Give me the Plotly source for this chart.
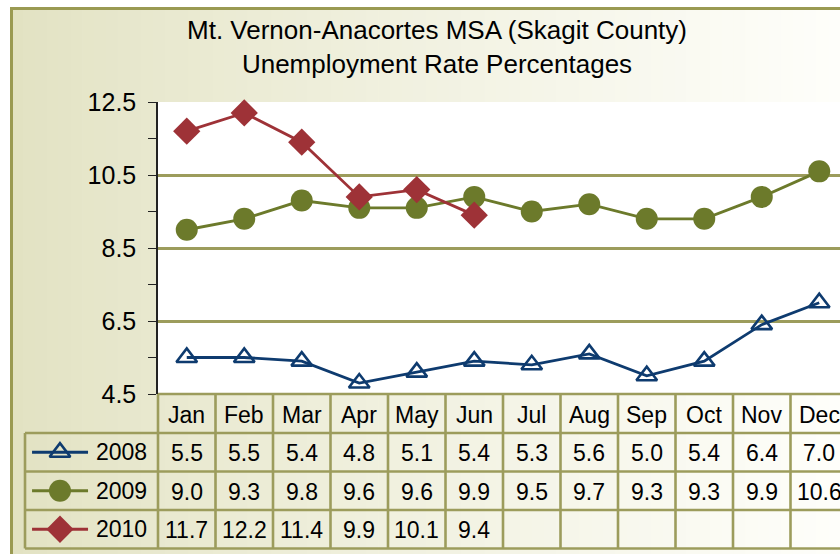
import plotly.graph_objects as go

months = ["Jan", "Feb", "Mar", "Apr", "May", "Jun", "Jul", "Aug", "Sep", "Oct", "Nov", "Dec"]
years = ["2008", "2009", "2010"]
rate_2008 = [5.5, 5.5, 5.4, 4.8, 5.1, 5.4, 5.3, 5.6, 5.0, 5.4, 6.4, 7.0]
rate_2009 = [9.0, 9.3, 9.8, 9.6, 9.6, 9.9, 9.5, 9.7, 9.3, 9.3, 9.9, 10.6]
rate_2010 = [11.7, 12.2, 11.4, 9.9, 10.1, 9.4]
y_ticks = [4.5, 6.5, 8.5, 10.5, 12.5]

title_lines = ["Mt. Vernon-Anacortes MSA (Skagit County)", "Unemployment Rate Percentages"]

W, H = 840, 554
FONT = "Liberation Sans, Arial, sans-serif"
OLIVE_GRID = "#9C9C5C"
OLIVE_FRAME = "#9A9A52"
NAVY = "#0E3B6F"
GREEN = "#6C7A2B"
RED = "#9E3237"


def px(x):
    return x / W


def py(y):
    return 1 - y / H


# layout geometry (pixels)
PLOT_L, PLOT_T, PLOT_B = 158, 102, 394
COL_W = 57.5
ROW_EDGES = [394, 433, 471.5, 510, 548.5]
TABLE_L = 25

series = [
    dict(name="2008", y=rate_2008, color=NAVY,
         marker=dict(symbol="triangle-up-open", size=18, color=NAVY, line=dict(color=NAVY, width=2.6))),
    dict(name="2009", y=rate_2009, color=GREEN,
         marker=dict(symbol="circle", size=22, color=GREEN, line=dict(width=0))),
    dict(name="2010", y=rate_2010, color=RED,
         marker=dict(symbol="diamond", size=21, color=RED, line=dict(width=0))),
]

fig = go.Figure()

for s in series:
    fig.add_trace(go.Scatter(
        x=months[:len(s["y"])], y=s["y"], mode="lines+markers",
        line=dict(color=s["color"], width=2.8), marker=s["marker"],
        cliponaxis=False, showlegend=False, xaxis="x", yaxis="y"))

# legend keys in the table's first column
for r, s in enumerate(series):
    fig.add_trace(go.Scatter(
        x=[0.053, 0.474], y=[r, r], mode="lines",
        line=dict(color=s["color"], width=2.8),
        showlegend=False, xaxis="x2", yaxis="y2", cliponaxis=False, hoverinfo="skip"))
    fig.add_trace(go.Scatter(
        x=[0.263], y=[r], mode="markers", marker=s["marker"],
        showlegend=False, xaxis="x2", yaxis="y2", cliponaxis=False, hoverinfo="skip"))

shapes = []
# background gradient
n_strips = 70
x_start, x_end = 11, W
c0 = (226, 226, 194)
c1 = (254, 254, 250)
for i in range(n_strips):
    t = (i / (n_strips - 1)) ** 0.85
    col = tuple(round(c0[k] + (c1[k] - c0[k]) * t) for k in range(3))
    xa = x_start + (x_end - x_start) * i / n_strips
    xb = x_start + (x_end - x_start) * (i + 1) / n_strips + 0.8
    shapes.append(dict(type="rect", xref="paper", yref="paper",
                       x0=px(xa), x1=px(xb), y0=py(H), y1=py(8),
                       fillcolor="rgb(%d,%d,%d)" % col, line=dict(width=0), layer="below"))
# frame
shapes.append(dict(type="line", xref="paper", yref="paper", x0=px(10), x1=1, y0=py(8.5), y1=py(8.5),
                   line=dict(color=OLIVE_FRAME, width=3), layer="below"))
shapes.append(dict(type="line", xref="paper", yref="paper", x0=px(11.5), x1=px(11.5), y0=py(7), y1=0,
                   line=dict(color=OLIVE_FRAME, width=3), layer="below"))
# white plot area
shapes.append(dict(type="rect", xref="x domain", yref="y domain", x0=0, x1=1, y0=0, y1=1,
                   fillcolor="white", line=dict(width=0), layer="below"))

# table grid
for i in range(1, len(months) + 1):
    shapes.append(dict(type="line", xref="x", yref="paper", x0=i - 0.5, x1=i - 0.5,
                       y0=py(ROW_EDGES[0]), y1=py(ROW_EDGES[-1]),
                       line=dict(color=OLIVE_GRID, width=2.6)))
shapes.append(dict(type="line", xref="paper", yref="paper", x0=px(PLOT_L), x1=px(PLOT_L),
                   y0=py(ROW_EDGES[0]), y1=py(ROW_EDGES[-1]),
                   line=dict(color=OLIVE_GRID, width=2.6)))
shapes.append(dict(type="line", xref="paper", yref="paper", x0=px(TABLE_L), x1=px(TABLE_L),
                   y0=py(ROW_EDGES[1]), y1=py(ROW_EDGES[-1]),
                   line=dict(color=OLIVE_GRID, width=2.6)))
for j, ye in enumerate(ROW_EDGES):
    x0 = px(PLOT_L) if j == 0 else px(TABLE_L)
    shapes.append(dict(type="line", xref="paper", yref="paper", x0=x0, x1=1,
                       y0=py(ye), y1=py(ye), line=dict(color=OLIVE_GRID, width=2.6)))

annotations = []
annotations.append(dict(text="<br>".join(title_lines), xref="paper", yref="paper",
                        x=px(437), y=py(47), xanchor="center", yanchor="middle",
                        showarrow=False, font=dict(family=FONT, size=26, color="black")))
row_centers = [(ROW_EDGES[k] + ROW_EDGES[k + 1]) / 2 + 1 for k in range(4)]
for i, m in enumerate(months):
    annotations.append(dict(text=m, xref="x", yref="paper", x=i, y=py(row_centers[0]),
                            xanchor="center", yanchor="middle",
                            showarrow=False, font=dict(family=FONT, size=23, color="black")))
for r, s in enumerate(series):
    for i, v in enumerate(s["y"]):
        annotations.append(dict(text="%.1f" % v, xref="x", yref="paper", x=i, y=py(row_centers[r + 1]),
                                xanchor="center", yanchor="middle",
                                showarrow=False, font=dict(family=FONT, size=23, color="black")))
    annotations.append(dict(text=years[r], xref="x2", yref="y2", x=0.52, y=r,
                            xanchor="left", yanchor="middle",
                            showarrow=False, font=dict(family=FONT, size=23, color="black")))

fig.update_layout(
    width=W, height=H, autosize=False,
    margin=dict(l=0, r=0, t=0, b=0, pad=0),
    paper_bgcolor="white", plot_bgcolor="rgba(0,0,0,0)",
    shapes=shapes, annotations=annotations,
    xaxis=dict(domain=[px(PLOT_L), 1], range=[-0.5, -0.5 + (W - PLOT_L) / COL_W],
               type="category", categoryorder="array", categoryarray=months, automargin=False,
               showticklabels=False, showgrid=False, zeroline=False, ticks="", showline=False),
    yaxis=dict(domain=[py(PLOT_B), py(PLOT_T)], range=[4.5, 12.5], automargin=False,
               tickvals=y_ticks, ticktext=["%.1f" % v for v in y_ticks],
               showgrid=True, gridcolor=OLIVE_GRID, gridwidth=2.6, zeroline=False,
               showline=True, linecolor="#222222", linewidth=1.5,
               ticks="outside", ticklen=8, tickcolor="#222222", tickwidth=1.3,
               ticklabelstandoff=7,
               minor=dict(tickvals=[5.5, 7.5, 9.5, 11.5], ticks="outside", ticklen=8,
                          tickcolor="#222222", tickwidth=1.3, showgrid=False),
               tickfont=dict(family=FONT, size=25, color="black")),
    xaxis2=dict(domain=[px(TABLE_L), px(PLOT_L)], range=[0, 1], visible=False, automargin=False),
    yaxis2=dict(domain=[py(ROW_EDGES[-1]), py(ROW_EDGES[1])], range=[2.5, -0.5], visible=False,
                automargin=False),
)

fig.write_html("out.html", config={"displayModeBar": False},
               post_script="document.body.style.margin='0';document.body.style.overflow='hidden';")
